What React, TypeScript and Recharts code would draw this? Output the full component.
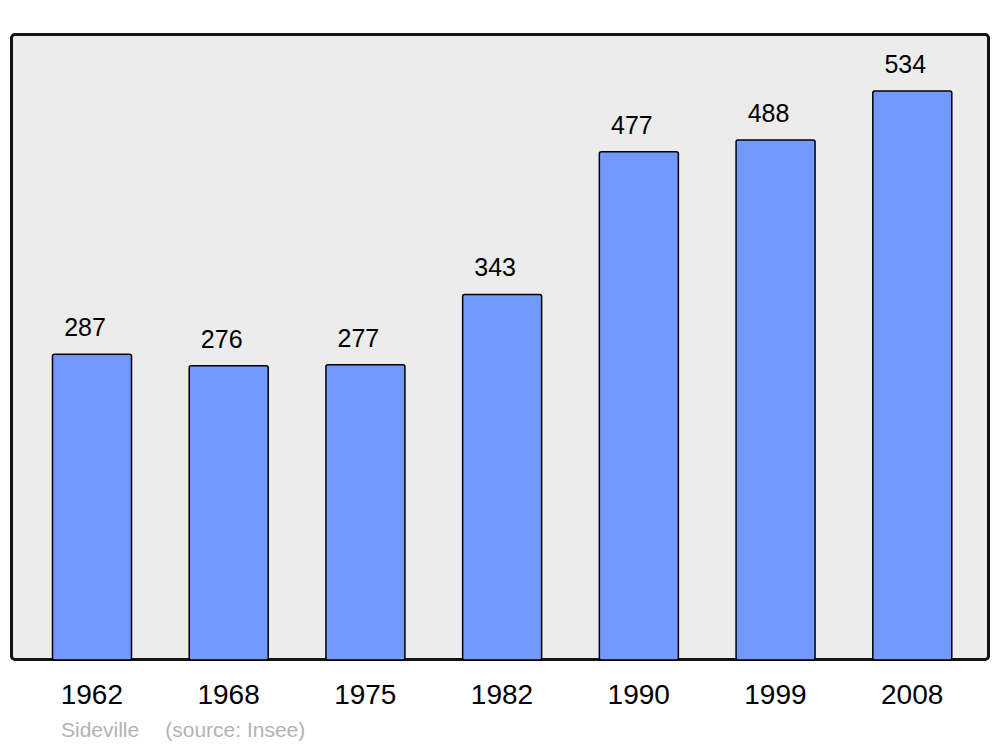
import React from 'react';
import { BarChart, Bar, XAxis, YAxis, LabelList } from 'recharts';

const years = ['1962', '1968', '1975', '1982', '1990', '1999', '2008'];
const population = [287, 276, 277, 343, 477, 488, 534];
const sourceName = 'Sideville';
const sourceNote = '(source: Insee)';

const data = years.map((y, i) => ({ year: y, value: population[i] }));
const yMax = Math.max(...population) * 1.1;

const FONT = '"Liberation Sans", Arial, sans-serif';

const ValueLabel = (props: any) => {
  const { x, y, width, value } = props;
  return (
    <text
      x={x + width / 2 - 7}
      y={y - 18}
      textAnchor="middle"
      fontSize={25}
      fill="#000"
      fontFamily={FONT}
    >
      {value}
    </text>
  );
};

export default function App() {
  return (
    <div style={{ position: 'absolute', left: 0, top: 0, width: 1000, height: 747, background: '#fff', fontFamily: FONT }}>
      <div
        style={{
          position: 'absolute',
          left: 10,
          top: 33,
          width: 980,
          height: 628,
          boxSizing: 'border-box',
          background: '#ececec',
          border: '3px solid #141414',
          borderRadius: 5,
        }}
      />
      <div style={{ position: 'absolute', left: 0, top: 0 }}>
        <BarChart
          width={1000}
          height={747}
          data={data}
          margin={{ top: 34, left: 11, right: 11, bottom: 47 }}
          barCategoryGap={0}
        >
          <XAxis
            dataKey="year"
            height={40}
            axisLine={false}
            tickLine={false}
            tickSize={0}
            tickMargin={24}
            padding={{ left: 12.5, right: 8.5 }}
            tick={{ fontSize: 28, fill: '#000', fontFamily: FONT }}
            interval={0}
          />
          <YAxis hide domain={[0, yMax]} />
          <Bar
            dataKey="value"
            barSize={79}
            fill="#7399ff"
            stroke="#000"
            strokeWidth={1.5}
            radius={2}
            isAnimationActive={false}
          >
            <LabelList dataKey="value" content={ValueLabel} />
          </Bar>
        </BarChart>
      </div>
      <div
        style={{
          position: 'absolute',
          left: 61,
          top: 718,
          fontSize: 21,
          color: '#b3b3b3',
          whiteSpace: 'pre',
          lineHeight: '24px',
        }}
      >
        {sourceName}
        <span style={{ marginLeft: 26 }}>{sourceNote}</span>
      </div>
    </div>
  );
}
